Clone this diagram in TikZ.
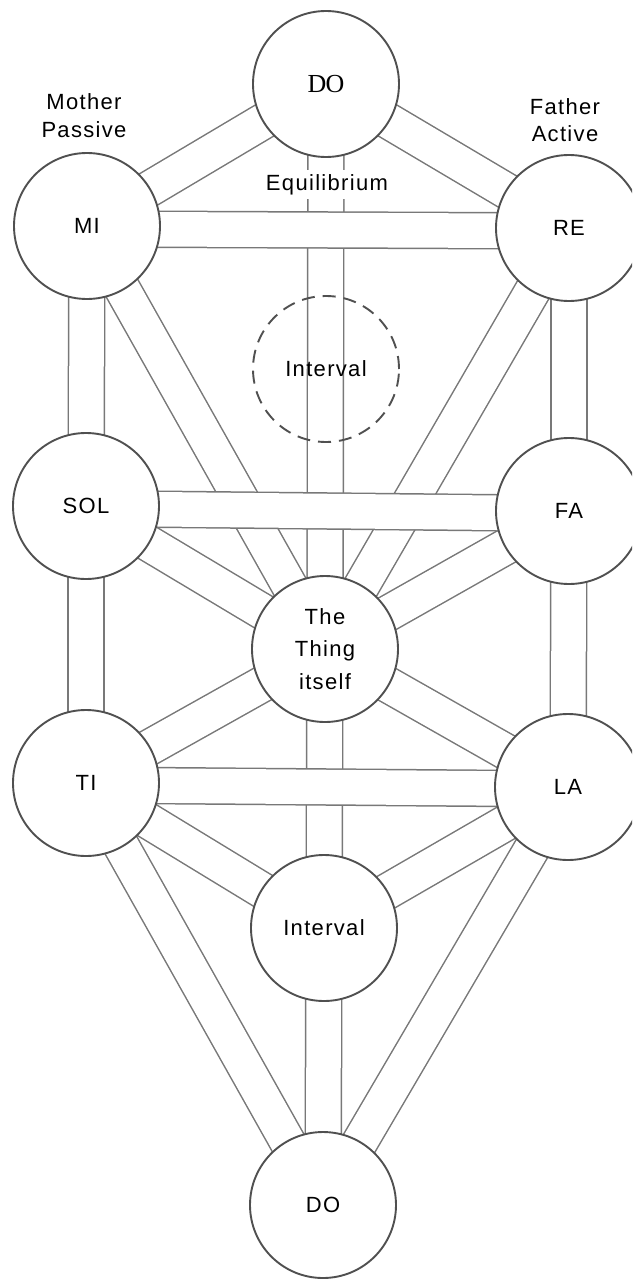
\documentclass[tikz,border=0pt]{standalone}
\usepackage{fontspec}
\setmainfont{Liberation Sans}
\newfontfamily\lblfont[LetterSpace=6]{Liberation Sans}
\newfontfamily\serifdo[LetterSpace=-4]{Liberation Serif}
\definecolor{chan}{RGB}{120,120,120}
\definecolor{circ}{RGB}{80,80,80}
\pgfdeclarelayer{chanout}
\pgfdeclarelayer{chanin}
\pgfdeclarelayer{hband}
\pgfsetlayers{chanout,chanin,hband,main}
\begin{document}
\begin{tikzpicture}[x=1pt,y=-1pt,
  lbl/.style={font={\lblfont\fontsize{22}{32.5}\selectfont}},
  sef/.style={circle, draw=circ, line width=1.9pt, fill=white, minimum size=146pt,
    inner sep=0pt, align=center, lbl},
  intv/.style={circle, draw=circ, line width=1.9pt, dash pattern=on 13pt off 8pt,
    minimum size=146pt, inner sep=0pt, lbl},
  chanouter/.style={line width=37.5pt, draw=chan},
  chaninner/.style={line width=34.5pt, draw=white},
  side/.style={anchor=base, lbl}]
\useasboundingbox (0,0) rectangle (632,1279);
\clip (0,0) rectangle (632,1279);
\begin{pgfonlayer}{chanout}
\fill[white] (0,0) rectangle (632,1279);
\end{pgfonlayer}

% sephiroth
\node[sef] (DOt) at (326,84) {\serifdo\fontsize{26}{30}\selectfont DO};
\node[sef] (MI) at (87,226) {MI};
\node[sef] (RE) at (569,228) {RE};
\node[intv] (IntD) at (326,369) {Interval};
\node[sef] (SOL) at (86,506) {SOL};
\node[sef] (FA) at (569,511) {FA};
\node[sef] (Thing) at (325,649) {The\\Thing\\itself};
\node[sef] (TI) at (86,783) {TI};
\node[sef] (LA) at (568,787) {LA};
\node[sef] (IntB) at (324,928) {Interval};
\node[sef] (DOb) at (323,1205) {DO};

% side labels
\node[side] (mother) at (84,110) {Mother};
\node[side] (passive) at (84,137) {Passive};
\node[side] (father) at (565,115) {Father};
\node[side] (active) at (565,142) {Active};
\node[side, fill=white, inner sep=4pt] (equil) at (327,190) {Equilibrium};

% channels (merged)
\def\chanlist{DOt/MI, DOt/RE, DOt/Thing, MI/SOL, MI/Thing, RE/FA, RE/Thing,
  SOL/TI, SOL/Thing, FA/LA, FA/Thing, Thing/TI, Thing/LA, Thing/IntB,
  TI/IntB, TI/DOb, LA/IntB, LA/DOb, IntB/DOb}
\begin{pgfonlayer}{chanout}
\foreach \a/\b in \chanlist {\draw[chanouter] (\a.center) -- (\b.center);}
\end{pgfonlayer}
\begin{pgfonlayer}{chanin}
\foreach \a/\b in \chanlist {\draw[chaninner] (\a.center) -- (\b.center);}
\end{pgfonlayer}

% horizontal channels on top
\begin{pgfonlayer}{hband}
\draw[chanouter] ([yshift=-3pt]MI.center) -- ([yshift=-3pt]RE.center);
\draw[chaninner] ([yshift=-3pt]MI.center) -- ([yshift=-3pt]RE.center);
\draw[chanouter] ([yshift=-2.5pt]SOL.center) -- ([yshift=-2.5pt]FA.center);
\draw[chaninner] ([yshift=-2.5pt]SOL.center) -- ([yshift=-2.5pt]FA.center);
\draw[chanouter] ([yshift=-2pt]TI.center) -- ([yshift=-2pt]LA.center);
\draw[chaninner] ([yshift=-2pt]TI.center) -- ([yshift=-2pt]LA.center);
\end{pgfonlayer}
\end{tikzpicture}
\end{document}
